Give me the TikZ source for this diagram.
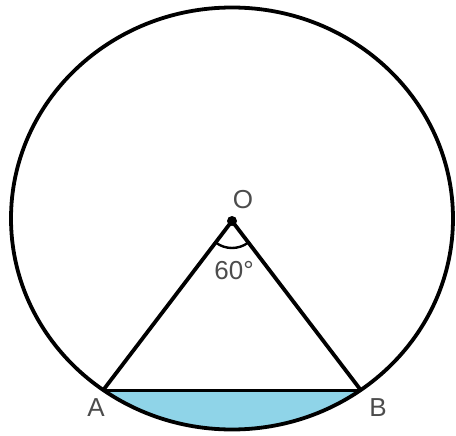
\documentclass[tikz,border=0pt]{standalone}
\usepackage{fontspec}
\setmainfont{Liberation Sans}
\usetikzlibrary{calc}
\begin{document}
\begin{tikzpicture}[x=1pt,y=-1pt,
  lbl/.style={text=black!70, font=\fontsize{26}{28}\selectfont, inner sep=0pt},
  thick line/.style={line width=3.8pt, black}]
\useasboundingbox (0,0) rectangle (456,436);
\coordinate (C) at (232,218.5);
\coordinate (O) at (232,221);
\coordinate (A) at (103.3,390);
\coordinate (B) at (360.7,390);
\definecolor{segblue}{RGB}{143,212,232}
\begin{scope}
  \clip (0,390) rectangle (456,436);
  \fill[segblue] (C) ellipse [x radius=221, y radius=211];
\end{scope}
\draw[thick line] (C) ellipse [x radius=221, y radius=211];
\draw[thick line, line join=round] (A) -- (O) -- (B);
\draw[line width=3pt, black] (A) -- (B);
\draw[line width=2.4pt, black] ($(O)+(127:27)$) arc[start angle=127, end angle=53, radius=27];
\fill[black] (O) circle[radius=5];
\node[lbl] (lO) at (243,200) {O};
\node[lbl] (l60) at (234,271) {60°};
\node[lbl] (lA) at (96,408) {A};
\node[lbl] (lB) at (378,408) {B};
\end{tikzpicture}
\end{document}
